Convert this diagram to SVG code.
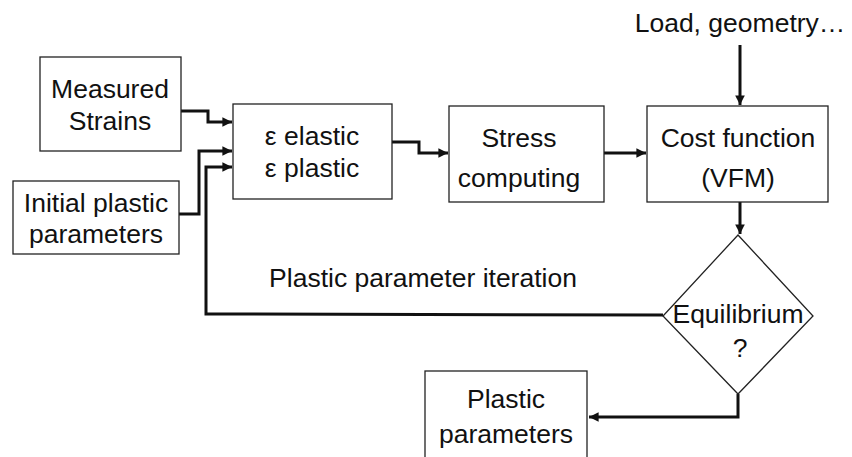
<svg xmlns="http://www.w3.org/2000/svg" width="852" height="457" viewBox="0 0 852 457">
<style>
.box{fill:#fff;stroke:#222;stroke-width:1.3}
.t{font-family:"Liberation Sans",Arial,sans-serif;font-size:26.5px;fill:#111;text-anchor:middle}
.c{fill:none;stroke:#111;stroke-width:3}
</style>
<defs>
<marker id="ah" viewBox="0 0 10 10" refX="10" refY="5" markerWidth="3.2" markerHeight="3.2" orient="auto" markerUnits="strokeWidth">
<path d="M0,0 L10,5 L0,10 z" fill="#111"/>
</marker>
</defs>
<rect width="852" height="457" fill="#fff"/>
<g id="connectors">
<polyline class="c" points="181,111 208,111 208,122 232,122" marker-end="url(#ah)"/>
<polyline class="c" points="179,214 199,214 199,151 232,151" marker-end="url(#ah)"/>
<polyline class="c" points="663,315 206,314 206,167 232,167" marker-end="url(#ah)"/>
<polyline class="c" points="392,142 419,142 419,153 448,153" marker-end="url(#ah)"/>
<polyline class="c" points="604,153 646,153" marker-end="url(#ah)"/>
<polyline class="c" points="740,45 740,105" marker-end="url(#ah)"/>
<polyline class="c" points="740,202 740,234" marker-end="url(#ah)"/>
<polyline class="c" points="738,394 738,417 589,417" marker-end="url(#ah)"/>
</g>
<g id="measured">
<rect class="box" x="40" y="57" width="141" height="94"/>
<text class="t" x="110" y="98">Measured</text>
<text class="t" x="110" y="130">Strains</text>
</g>
<g id="initial">
<rect class="box" x="13" y="181" width="166" height="73"/>
<text class="t" x="96" y="212">Initial plastic</text>
<text class="t" x="96" y="243">parameters</text>
</g>
<g id="epsilon">
<rect class="box" x="233" y="104" width="159" height="95"/>
<text class="t" x="312" y="145">ε elastic</text>
<text class="t" x="312" y="177">ε plastic</text>
</g>
<g id="stress">
<rect class="box" x="449" y="106" width="155" height="96"/>
<text class="t" x="519" y="147">Stress</text>
<text class="t" x="519" y="187">computing</text>
</g>
<g id="cost">
<rect class="box" x="647" y="106" width="181" height="96"/>
<text class="t" x="738" y="147">Cost function</text>
<text class="t" x="738" y="187">(VFM)</text>
</g>
<g id="load">
<text class="t" x="740" y="32">Load, geometry…</text>
</g>
<g id="equilibrium">
<polygon class="box" points="738,235 813,316 738,394 663,316"/>
<text class="t" x="738" y="323">Equilibrium</text>
<text class="t" x="740" y="357">?</text>
</g>
<g id="iteration-label">
<text class="t" x="423" y="287">Plastic parameter iteration</text>
</g>
<g id="plastic-params">
<rect class="box" x="425" y="371" width="162" height="100"/>
<text class="t" x="506" y="408">Plastic</text>
<text class="t" x="506" y="443">parameters</text>
</g>
</svg>
